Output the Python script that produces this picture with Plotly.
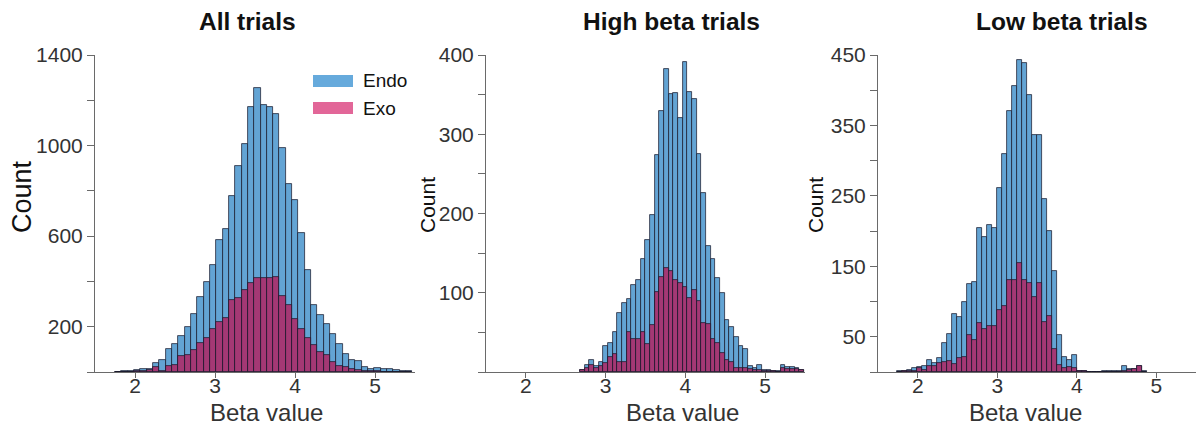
import numpy as np
import plotly.graph_objects as go

W, H = 1196, 425
FONT = "Liberation Sans, Arial, Helvetica, sans-serif"

# ---- histogram counts (bins of equal width starting at *_bin_start) ----
all_bin_start = 1.752
all_bin_width = 0.079
all_endo = [1, 3, 4, 7, 12, 15, 41, 55, 100, 125, 159, 200, 256, 332, 396, 472,
            582, 632, 779, 910, 1009, 1171, 1256, 1180, 1171, 1141, 990, 832, 760,
            614, 450, 298, 250, 210, 166, 122, 80, 55, 47, 20, 15, 18, 15, 14, 10, 5, 3]
all_exo = [0, 1, 2, 4, 6, 10, 22, 5, 27, 32, 71, 74, 96, 127, 152, 190,
           222, 238, 318, 328, 362, 392, 413, 413, 416, 418, 334, 296, 233,
           188, 150, 118, 88, 75, 46, 28, 20, 12, 9, 6, 4, 3, 2, 1, 1, 0, 0]

high_bin_start = 2.678
high_bin_width = 0.0585
high_endo = [3, 9, 15, 8, 12, 33, 37, 51, 75, 87, 92, 110, 116, 142, 167, 198, 274,
             329, 382, 351, 352, 321, 391, 353, 344, 275, 226, 159, 142, 119, 100,
             65, 57, 44, 33, 29, 8, 5, 9, 3, 2, 1, 1, 9, 6, 6, 5, 3]
high_exo = [3, 5, 9, 5, 8, 11, 19, 23, 12, 13, 50, 42, 42, 50, 35, 59, 101,
            120, 131, 127, 116, 112, 107, 93, 104, 89, 62, 61, 42, 36, 24,
            15, 13, 5, 5, 5, 4, 3, 2, 1, 1, 1, 0, 5, 4, 4, 4, 3]

low_bin_start = 1.7354
low_bin_width = 0.0629
low_endo = [1, 2, 3, 5, 7, 9, 17, 13, 20, 41, 54, 82, 78, 99, 125, 128, 205, 191,
            208, 204, 261, 309, 370, 406, 443, 438, 393, 336, 336, 246, 200, 143,
            52, 21, 17, 24, 2, 1, 0, 0, 0, 1, 1, 1, 1, 9, 4, 4, 8, 2]
low_exo = [0, 1, 1, 2, 5, 3, 8, 8, 13, 14, 16, 12, 20, 22, 53, 46, 69, 61,
           66, 66, 88, 94, 130, 130, 155, 130, 126, 107, 126, 71, 79, 32,
           10, 6, 7, 6, 2, 1, 0, 0, 0, 0, 0, 0, 0, 2, 3, 4, 8, 0]

titles = ["All trials", "High beta trials", "Low beta trials"]
x_ticks = [2, 3, 4, 5]
y_tickvals = [list(range(0, 1401, 200)), list(range(0, 401, 50)), list(range(0, 451, 50))]
y_labelled = [[200, 600, 1000, 1400], [100, 200, 300, 400], [50, 150, 250, 350, 450]]
y_max = [1400, 400, 450]

ENDO_COLOR = "rgb(99,164,212)"
EXO_COLOR = "rgb(164,56,116)"
ENDO_KEY = "rgb(102,170,220)"
EXO_KEY = "rgb(226,102,152)"
EDGE = "rgba(22,22,40,0.9)"
AXIS = "#6a6a6a"
TEXT = "#333333"


def px(x):
    return x / W


def py(y):
    return 1 - y / H


# plot areas in pixels (left, right); all share top/bottom
areas = [(95, 415), (486, 805), (878, 1196)]
top, bottom = 55, 372

panels = [
    (all_bin_start, all_bin_width, all_endo, all_exo),
    (high_bin_start, high_bin_width, high_endo, high_exo),
    (low_bin_start, low_bin_width, low_endo, low_exo),
]

fig = go.Figure()
layout = dict(
    width=W, height=H,
    margin=dict(l=0, r=0, t=0, b=0, pad=0, autoexpand=False),
    plot_bgcolor="white", paper_bgcolor="white",
    barmode="overlay", bargap=0, showlegend=False,
    font=dict(family=FONT, color=TEXT),
)

for i, (start, width, endo, exo) in enumerate(panels):
    sfx = "" if i == 0 else str(i + 1)
    centers = start + width * (np.arange(len(endo)) + 0.5)
    for vals, col in ((endo, ENDO_COLOR), (exo, EXO_COLOR)):
        fig.add_trace(go.Bar(
            x=centers, y=vals, width=width,
            marker=dict(color=col, line=dict(color=EDGE, width=0.8)),
            xaxis="x" + sfx, yaxis="y" + sfx,
        ))
    left, right = areas[i]
    layout["xaxis" + sfx] = dict(
        domain=[px(left), px(right)], range=[1.5, 5.5], anchor="y" + sfx,
        tickvals=x_ticks, ticktext=[str(t) for t in x_ticks],
        showline=True, linecolor=AXIS, linewidth=1,
        ticks="outside", ticklen=5, tickcolor=AXIS, tickwidth=1,
        ticklabelstandoff=-10,
        showgrid=False, zeroline=False, automargin=False,
        tickfont=dict(size=21, color=TEXT, family=FONT),
    )
    layout["yaxis" + sfx] = dict(
        domain=[py(bottom), py(top)], range=[0, y_max[i]], anchor="x" + sfx,
        tickvals=y_tickvals[i],
        ticktext=[str(v) if v in y_labelled[i] else "" for v in y_tickvals[i]],
        showline=True, linecolor=AXIS, linewidth=1,
        ticks="outside", ticklen=7, tickcolor=AXIS, tickwidth=1,
        showgrid=False, zeroline=False, automargin=False,
        tickfont=dict(size=21, color=TEXT, family=FONT),
    )

fig.update_layout(**layout)

ann = []
title_x = [247, 671, 1062]
for t, xc in zip(titles, title_x):
    ann.append(dict(text="<b>%s</b>" % t, x=px(xc), y=py(22), xref="paper", yref="paper",
                    showarrow=False, xanchor="center", yanchor="middle",
                    font=dict(size=24.5, color="#111111", family=FONT)))
for xc in (266, 682, 1025):
    ann.append(dict(text="Beta value", x=px(xc), y=py(412), xref="paper", yref="paper",
                    showarrow=False, xanchor="center", yanchor="middle",
                    font=dict(size=24, color=TEXT, family=FONT)))
for xc, yc, size in ((22, 197, 27), (427, 205, 21), (815, 205, 21)):
    ann.append(dict(text="Count", x=px(xc), y=py(yc), xref="paper", yref="paper",
                    showarrow=False, xanchor="center", yanchor="middle", textangle=-90,
                    font=dict(size=size, color="#111111", family=FONT)))

# legend keys
legend_items = [("Endo", ENDO_KEY, 81), ("Exo", EXO_KEY, 108)]
shapes = []
for label, col, yc in legend_items:
    shapes.append(dict(type="rect", xref="paper", yref="paper",
                       x0=px(313), x1=px(353), y0=py(yc + 6), y1=py(yc - 6),
                       fillcolor=col, line=dict(width=0)))
    ann.append(dict(text=label, x=px(361), y=py(yc), xref="paper", yref="paper",
                    showarrow=False, xanchor="left", yanchor="middle",
                    font=dict(size=19, color="#111111", family=FONT)))

fig.update_layout(annotations=ann, shapes=shapes)
fig.write_html("out.html")
